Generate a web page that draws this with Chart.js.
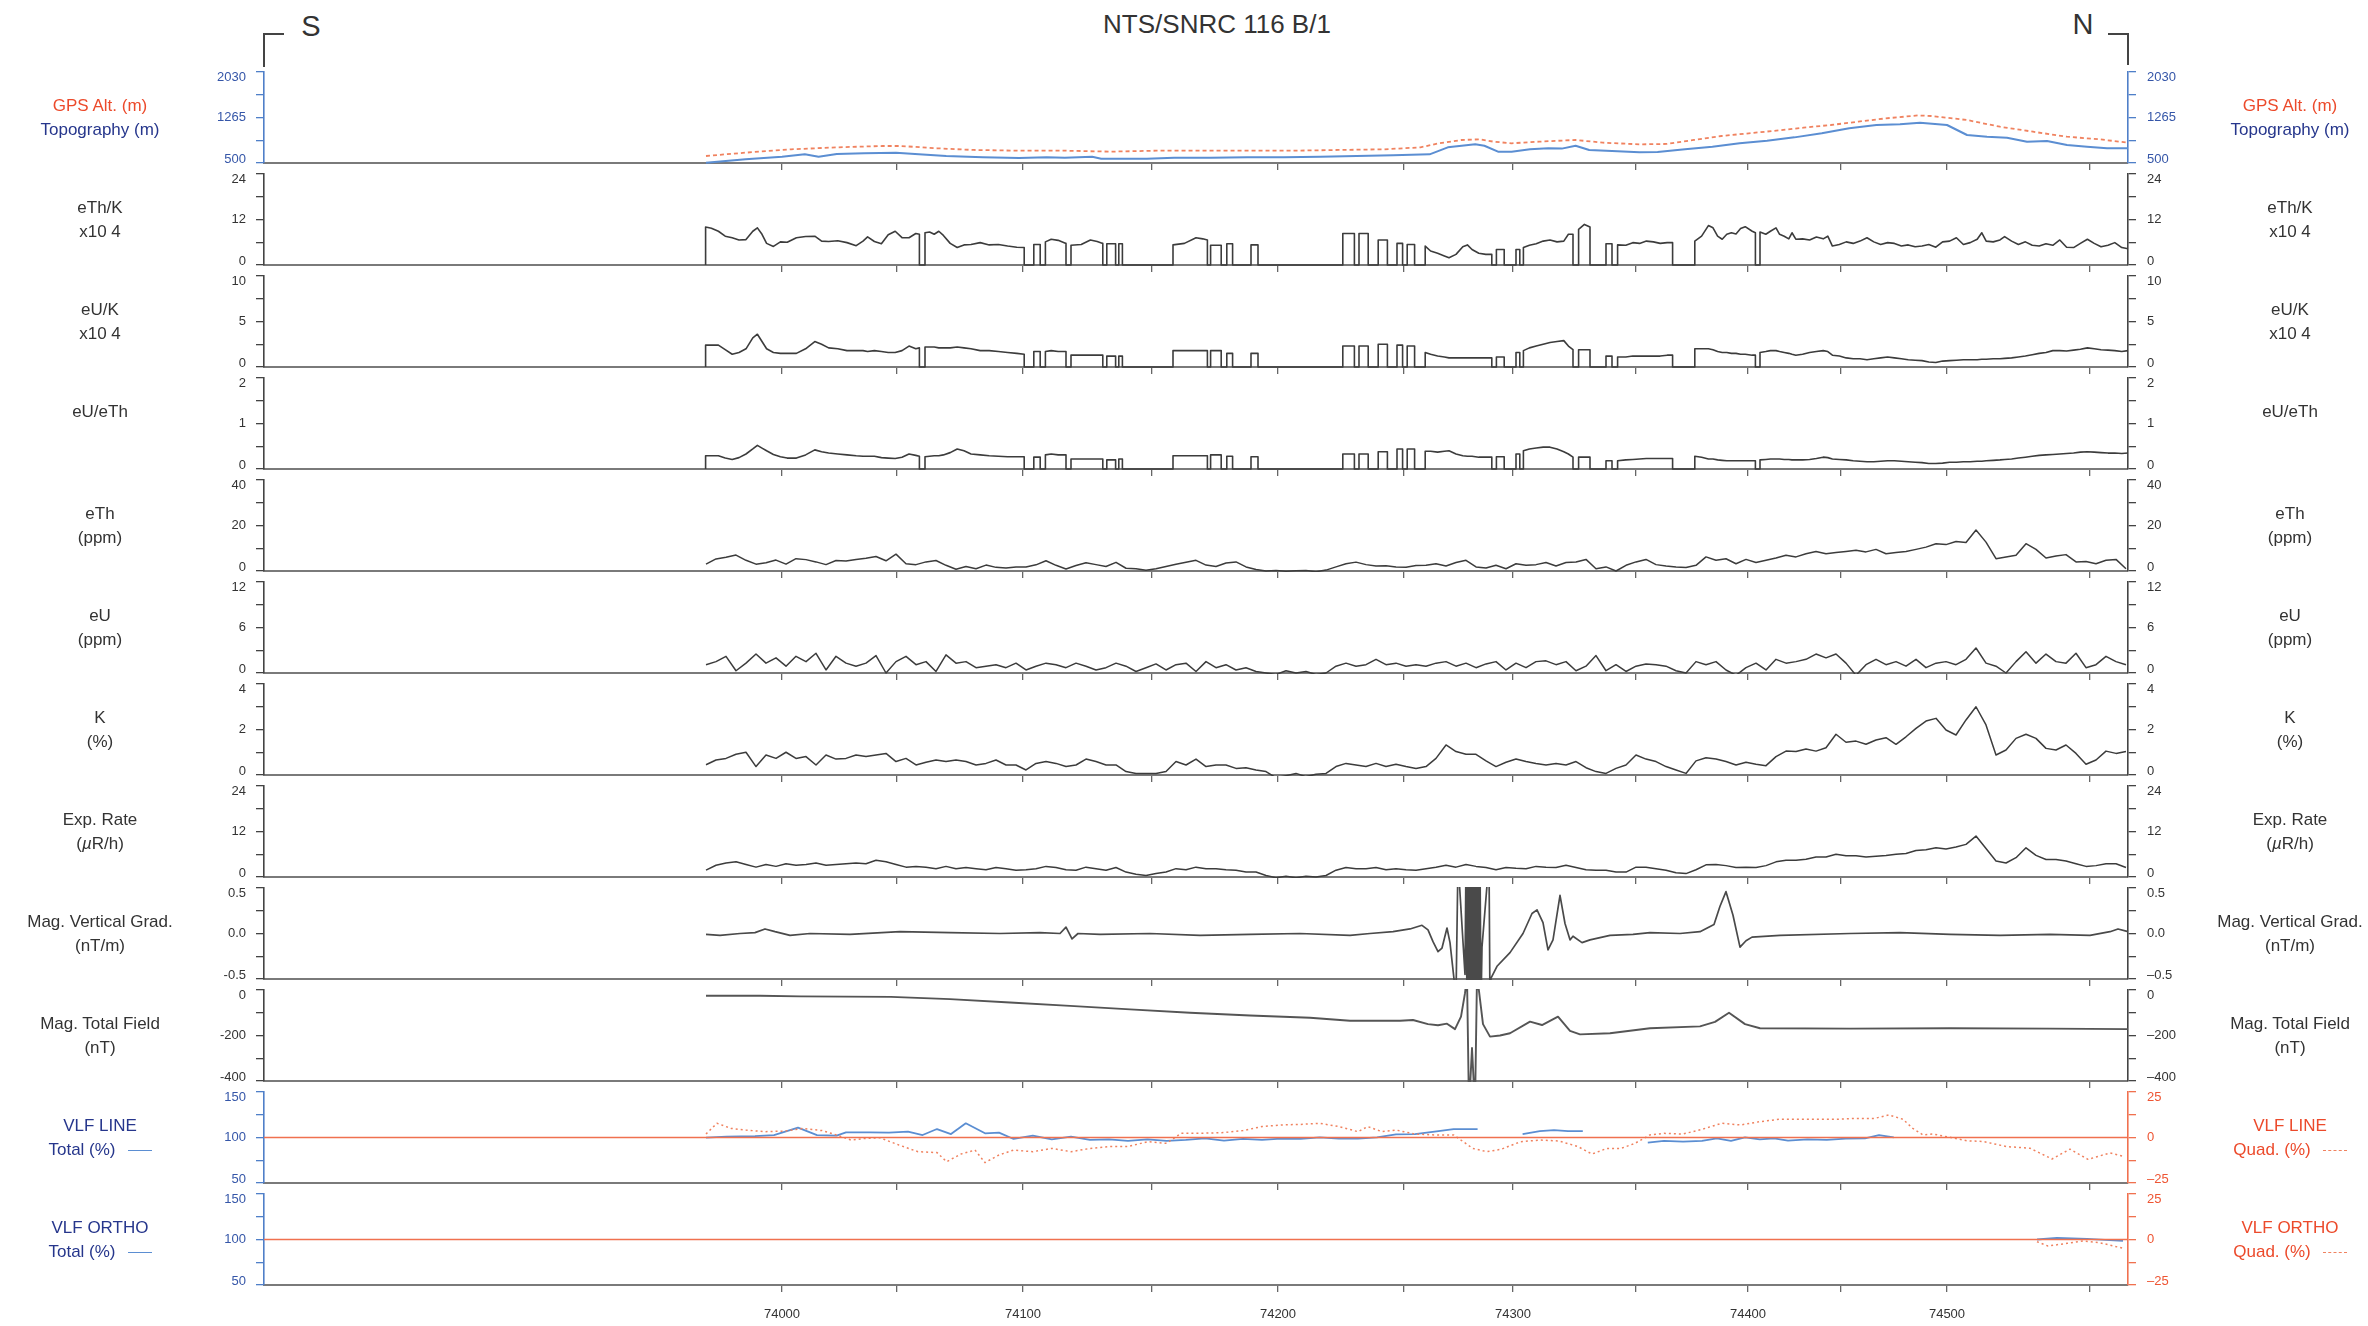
<!DOCTYPE html>
<html><head><meta charset="utf-8">
<script src="https://cdn.jsdelivr.net/npm/chart.js@4.4.1/dist/chart.umd.min.js"></script>
<style>
html,body{margin:0;padding:0;background:#fff;}
body{width:2368px;height:1326px;position:relative;overflow:hidden;font-family:"Liberation Sans",Arial,Helvetica,sans-serif;color:#333;}
.pn{position:absolute;left:0;width:2368px;}
.pn canvas{display:block;}
.lab{position:absolute;width:200px;text-align:center;font-size:17px;line-height:24px;color:#333;white-space:nowrap;}
.txt{position:absolute;white-space:nowrap;}
.br{position:absolute;border-color:#444;border-style:solid;border-width:0;}
</style></head><body>
<div class="txt" style="left:917px;width:600px;top:8px;text-align:center;font-size:26px;line-height:32px;">NTS/SNRC 116 B/1</div>
<div class="txt" style="left:291px;width:40px;top:8px;text-align:center;font-size:29px;line-height:36px;">S</div>
<div class="txt" style="left:2063px;width:40px;top:6px;text-align:center;font-size:29px;line-height:36px;">N</div>
<div class="br" style="left:263px;top:33px;width:19px;height:32px;border-top-width:2px;border-left-width:2px;"></div>
<div class="br" style="left:2108px;top:33px;width:19px;height:30px;border-top-width:2px;border-right-width:2px;"></div>
<script>
// ---------- x axis (distance along line, m) and fiducial ticks ----------
const X_MIN = 0, X_MAX = 9320;
const fidLabels = [74000,74050,74100,74150,74200,74250,74300,74350,74400,74450,74500,74550];
const fidDist   = [2590,3165,3795,4440,5070,5700,6245,6860,7420,7885,8415,9130];

// ---------- GPS altitude / topography (m) ----------
const topoDist = [2210,2408,2590,2704,2773,2864,3001,3160,3274,3411,3594,3776,3913,4004,4141,4186,4414,4551,4734,4916,5098,5281,5463,5646,5828,5919,5988,6056,6102,6170,6238,6330,6421,6489,6558,6626,6740,6877,6968,7105,7242,7378,7515,7652,7789,7926,8062,8180,8280,8415,8515,8615,8715,8815,8915,9015,9115,9215,9320];
const topoAlt  = [505,562,606,646,606,651,662,674,646,618,595,584,595,590,606,573,573,590,590,595,595,606,618,629,646,763,791,814,790,691,691,730,747,742,791,719,702,679,684,730,775,831,875,931,999,1083,1139,1150,1177,1139,971,942,926,858,870,803,774,747,747];
const gpsDist  = [2210,2408,2636,2864,3092,3183,3366,3548,3776,4004,4232,4460,4688,4916,5144,5372,5600,5782,5874,5988,6079,6147,6238,6375,6558,6694,6877,7014,7150,7287,7424,7561,7698,7834,7971,8108,8270,8336,8515,8680,8845,9015,9180,9320];
const gpsAlt   = [618,674,730,763,786,786,747,719,707,707,691,707,707,707,707,719,730,763,831,887,898,859,831,859,887,842,814,820,887,954,999,1044,1094,1139,1195,1250,1300,1290,1223,1110,1026,942,898,841];

// ---------- ratio panels: segments (distance) and values ----------
const ratioSegDist = [
 [2208,2237,2272,2306,2341,2375,2410,2444,2467,2490,2513,2547,2582,2616,2662,2708,2754,2788,2823,2869,2915,2961,2995,3018,3052,3087,3121,3156,3190,3225,3259,3277],
 [3305,3328,3351,3374,3397,3431,3466,3500,3535,3581,3626,3672,3718,3764,3801],
 [3849,3881],[3907,3936,3971,4010],[4035,4086,4132,4166,4194],[4214,4258],[4274,4292],
 [4545,4602,4660,4694,4717],[4733,4786],[4814,4843],[4935,4970],
 [5394,5452],[5475,5521],[5571,5617],[5665,5693],[5716,5753],
 [5806,5833,5868,5902,5925,5960,5994,6017,6040,6074,6109,6139],
 [6162,6201],[6260,6279],
 [6297,6327,6361,6396,6430,6465,6499,6522,6545],
 [6573,6602,6630],[6710,6740],
 [6768,6809,6844,6878,6912,6947,6981,7016,7043],
 [7154,7188,7222,7245,7268,7291,7314,7337,7360,7383,7406,7441,7457],
 [7480,7509,7532,7560,7578,7601,7624,7640,7659,7693,7728,7762,7796,7819,7842,7877,7911,7946,7980,8015,8049,8083,8118,8152,8187,8221,8256,8290,8324,8359,8393,8428,8462,8497,8531,8566,8589,8611,8646,8680,8703,8738,8772,8807,8841,8876,8910,8944,8979,9013,9048,9082,9117,9151,9185,9220,9254,9289,9320]
];
const eThK = [
 [10.0,9.7,8.9,7.6,7.2,6.6,6.7,8.9,9.8,8.1,5.7,4.9,6.1,6.0,7.2,7.5,7.6,6.3,6.2,6.4,5.9,5.1,6.3,7.4,6.2,5.6,8.0,8.9,7.2,7.2,8.3,8.1],
 [8.5,8.7,8.1,8.9,7.8,5.7,4.6,5.3,5.4,5.9,5.3,5.4,5.0,4.7,4.6],
 [5.4,5.4],[6.1,6.8,6.5,5.7],[5.2,5.4,6.6,6.2,5.7],[5.6,5.6],[5.6,5.6],
 [5.3,5.7,7.2,6.9,6.6],[5.2,5.2],[5.6,5.6],[5.3,5.3],
 [8.3,8.3],[8.3,8.3],[6.6,6.6],[5.7,5.7],[5.4,5.4],
 [5.0,3.7,3.1,2.4,1.9,2.8,4.8,5.3,4.1,3.1,2.8,2.8],
 [4.1,4.1],[4.1,4.1],
 [4.6,5.2,5.6,6.3,6.6,6.1,6.3,8.1,8.1],
 [9.4,10.7,10.0],[5.6,5.6],
 [5.3,5.2,5.9,5.7,6.3,6.1,5.7,5.9,5.9],
 [6.3,7.6,10.4,9.8,7.6,6.8,8.1,8.5,8.2,9.6,10.1,8.9,8.5],
 [8.7,8.1,8.9,9.8,8.1,7.6,6.9,8.5,6.8,6.9,6.6,7.4,6.9,7.6,5.0,5.4,6.1,5.7,6.3,7.2,6.1,5.4,5.9,5.7,5.0,5.3,4.8,5.0,5.4,4.7,6.1,6.3,7.2,5.4,5.9,6.8,8.5,6.3,6.1,6.6,7.5,6.3,5.4,6.1,5.2,5.0,5.6,5.2,6.6,4.7,4.6,5.7,6.8,5.7,4.8,5.2,5.9,4.6,4.3]
];
const eUK = [
 [2.4,2.4,2.4,1.9,1.4,1.6,2.0,3.2,3.6,2.8,2.0,1.6,1.5,1.5,1.5,2.0,2.8,2.5,2.1,2.0,1.8,1.8,1.8,1.7,1.8,1.7,1.6,1.6,1.8,2.3,2.0,2.1],
 [2.2,2.2,2.2,2.1,2.1,2.1,2.2,2.1,2.0,1.8,1.8,1.7,1.6,1.5,1.4],
 [1.7,1.7],[1.7,1.8,1.7,1.7],[1.3,1.3,1.3,1.3,1.3],[1.2,1.2],[1.2,1.2],
 [1.8,1.8,1.8,1.8,1.8],[1.8,1.8],[1.5,1.5],[1.5,1.5],
 [2.3,2.3],[2.3,2.3],[2.5,2.5],[2.4,2.4],[2.3,2.3],
 [1.6,1.4,1.2,1.1,1.0,1.0,1.0,1.0,1.0,1.0,1.0,1.0],
 [1.1,1.1],[1.6,1.6],
 [1.8,2.1,2.3,2.5,2.7,2.8,2.9,2.3,1.9],
 [1.9,1.9,1.9],[1.2,1.2],
 [1.1,1.1,1.2,1.2,1.2,1.2,1.2,1.3,1.3],
 [2.0,2.0,2.0,1.9,1.7,1.6,1.6,1.5,1.5,1.4,1.4,1.3,1.3],
 [1.6,1.7,1.8,1.8,1.7,1.6,1.5,1.4,1.3,1.4,1.6,1.7,1.8,1.7,1.3,1.2,1.0,0.9,0.9,0.8,0.9,1.0,1.1,1.0,0.9,0.8,0.75,0.7,0.55,0.5,0.65,0.7,0.75,0.8,0.8,0.8,0.85,0.85,0.9,0.9,0.95,1.0,1.1,1.2,1.35,1.5,1.6,1.8,1.8,1.75,1.85,1.95,2.1,2.0,1.9,1.85,1.8,1.7,1.8]
];
const eUeTh = [
 [0.29,0.29,0.29,0.24,0.21,0.25,0.33,0.44,0.52,0.46,0.40,0.32,0.27,0.24,0.24,0.31,0.42,0.38,0.35,0.33,0.31,0.29,0.28,0.28,0.28,0.25,0.24,0.23,0.26,0.33,0.30,0.28],
 [0.27,0.28,0.29,0.29,0.31,0.36,0.44,0.40,0.33,0.31,0.29,0.28,0.27,0.27,0.27],
 [0.26,0.26],[0.31,0.33,0.31,0.31],[0.22,0.22,0.22,0.22,0.22],[0.20,0.20],[0.22,0.22],
 [0.29,0.29,0.29,0.29,0.29],[0.31,0.31],[0.28,0.28],[0.27,0.27],
 [0.33,0.33],[0.33,0.33],[0.38,0.38],[0.44,0.44],[0.44,0.44],
 [0.39,0.39,0.37,0.39,0.40,0.33,0.29,0.28,0.28,0.26,0.26,0.26],
 [0.27,0.27],[0.33,0.33],
 [0.40,0.44,0.46,0.48,0.48,0.44,0.38,0.33,0.26],
 [0.26,0.26,0.26],[0.18,0.18],
 [0.18,0.20,0.21,0.22,0.23,0.23,0.23,0.23,0.23],
 [0.28,0.26,0.22,0.22,0.20,0.19,0.18,0.18,0.18,0.18,0.18,0.18,0.18],
 [0.20,0.21,0.22,0.22,0.22,0.21,0.21,0.20,0.20,0.20,0.21,0.23,0.26,0.25,0.22,0.21,0.20,0.18,0.17,0.16,0.16,0.17,0.18,0.18,0.17,0.16,0.15,0.14,0.12,0.12,0.13,0.15,0.15,0.16,0.16,0.17,0.17,0.18,0.19,0.20,0.21,0.22,0.24,0.26,0.28,0.30,0.31,0.32,0.33,0.34,0.35,0.37,0.38,0.37,0.36,0.35,0.35,0.34,0.35]
];

// ---------- radiometric profiles, sampled every 50 m from 2210 m ----------
const radStart = 2210, radStep = 50;
const eTh = [3.0,5.3,6.0,7.0,4.7,3.0,3.6,4.8,3.0,5.4,5.0,4.0,2.8,4.6,4.4,5.1,5.6,6.4,4.5,7.4,3.2,2.8,4.0,4.6,2.5,0.8,2.0,1.0,2.6,1.6,1.3,1.8,1.8,2.7,4.5,2.5,0.9,2.4,3.6,2.8,2.0,3.8,1.2,1.0,0.3,1.0,2.0,3.0,3.8,4.7,2.6,2.0,3.5,4.0,1.8,0.7,0.0,0.2,-0.1,0.1,0.2,-0.3,0.4,1.8,3.2,3.9,2.8,2.2,2.3,1.8,1.6,2.4,
 2.5,3.2,2.2,3.7,4.7,1.8,1.3,2.5,1.0,3.2,2.5,2.8,3.7,2.2,3.7,4.0,5.1,1.0,1.8,0.0,2.5,4.0,5.1,2.8,2.2,1.8,1.5,2.5,6.2,4.7,5.4,3.2,5.1,3.7,4.7,5.7,6.9,6.2,7.6,8.6,7.6,8.1,8.6,9.1,8.4,9.5,7.6,8.1,8.6,9.5,10.5,12.0,11.6,13.0,12.5,18.0,12.7,5.4,6.2,6.9,12.0,9.5,5.7,6.6,7.2,4.0,4.2,3.2,4.7,5.1,1.0];
const eU = [1.1,1.5,2.2,0.3,1.3,2.5,1.3,2.0,0.9,2.2,1.5,2.6,0.4,2.2,1.3,0.9,1.3,2.3,0.0,1.5,2.2,1.1,1.5,0.2,2.4,1.3,1.5,0.7,0.9,1.1,0.7,1.3,0.4,0.9,1.3,1.1,0.7,1.3,0.9,0.4,0.7,1.3,0.9,0.2,0.7,1.2,0.4,1.1,1.3,0.2,1.5,0.7,1.1,0.4,0.7,0.2,0.0,-0.2,0.3,0.0,0.2,-0.2,0.0,0.9,1.3,0.9,1.1,1.8,1.1,1.3,0.9,1.1,
 0.9,1.3,1.5,0.9,1.3,0.7,1.2,1.5,0.4,1.3,0.7,1.5,1.6,1.1,1.5,0.3,0.9,2.3,0.3,1.1,0.2,0.9,1.2,1.1,0.9,0.3,0.0,1.5,1.1,1.5,0.4,-0.3,0.7,1.3,0.4,1.8,1.3,1.5,1.8,2.5,2.0,2.5,1.3,-0.3,1.1,1.8,1.1,1.5,0.9,1.8,0.7,1.3,1.5,1.1,1.8,3.3,1.3,0.9,0.0,1.5,2.8,1.3,2.5,1.5,1.3,2.6,0.7,1.1,2.2,1.5,1.1];
const K = [0.45,0.66,0.73,0.91,1.0,0.37,0.88,0.73,1.0,0.73,0.81,0.44,0.88,0.70,0.73,0.88,0.81,0.88,0.95,0.59,0.73,0.44,0.56,0.66,0.59,0.66,0.59,0.44,0.51,0.66,0.44,0.44,0.22,0.51,0.59,0.51,0.37,0.44,0.70,0.59,0.44,0.44,0.15,0.07,0.07,0.07,0.15,0.59,0.44,0.70,0.37,0.44,0.44,0.29,0.32,0.22,0.15,-0.12,-0.03,0.07,-0.07,0.03,0.07,0.37,0.51,0.44,0.37,0.51,0.37,0.47,0.37,0.29,
 0.37,0.73,1.32,1.03,0.91,0.91,0.62,0.37,0.56,0.70,0.59,0.51,0.44,0.51,0.44,0.59,0.32,0.15,0.07,0.29,0.44,0.88,0.70,0.59,0.37,0.22,0.07,0.62,0.76,0.70,0.59,0.44,0.56,0.47,0.41,0.81,1.05,1.03,1.14,1.05,1.20,1.79,1.44,1.49,1.35,1.54,1.64,1.35,1.68,2.05,2.37,2.49,1.98,1.76,2.42,3.00,2.20,0.88,1.10,1.61,1.79,1.61,1.17,1.10,1.32,0.95,0.47,0.66,1.05,0.95,1.03];
const expRate = [1.8,3.1,3.7,4.0,3.3,2.6,3.3,2.8,3.5,3.1,3.3,3.7,3.1,3.3,3.5,3.7,3.5,4.4,4.0,3.3,2.6,2.8,2.6,2.2,2.8,2.2,2.5,2.2,1.9,2.5,2.2,1.8,1.9,2.2,2.8,2.5,1.9,1.8,2.6,2.2,1.8,2.5,1.3,0.7,0.4,0.9,1.3,2.2,1.9,2.6,2.2,2.2,1.9,1.8,1.3,1.3,0.4,-0.2,0.2,-0.2,0.2,0.0,0.4,1.8,2.5,2.2,2.2,2.5,1.9,2.2,1.9,1.8,
 2.2,2.6,3.1,2.6,3.3,2.8,2.5,1.9,2.5,2.3,2.2,2.8,2.6,2.5,3.1,2.5,1.9,1.8,1.8,1.3,1.3,2.6,2.6,2.2,1.8,1.1,0.9,1.9,3.2,3.3,3.0,2.5,2.6,2.5,3.0,4.0,4.4,4.4,4.7,5.3,5.3,6.0,5.6,5.6,5.3,5.5,5.7,6.0,6.2,7.0,7.2,7.7,7.4,7.9,8.6,10.8,7.5,4.2,3.7,5.1,7.7,5.7,4.6,4.6,4.2,3.5,2.8,3.0,3.5,3.5,2.5];

// ---------- magnetics ----------
const vgDist = [2210,2280,2380,2455,2505,2555,2630,2730,2930,3180,3430,3680,3880,3980,4010,4040,4070,4180,4430,4680,4930,5180,5430,5530,5645,5730,5790,5820,5845,5870,5890,5915,5930,5945,5960,5970,6005,
 6010,6015,6020,6025,6030,6035,6040,6045,6050,6055,6060,6065,6070,6075,6080,6085,
 6090,6125,6130,6135,6165,6230,6295,6340,6365,6395,6420,6445,6480,6505,6530,6545,6590,6630,6730,6845,6930,7080,7180,7250,7280,7310,7345,7380,7410,7440,7580,7930,8180,8430,8680,8930,9130,9230,9270,9320];
const vgVal = [-0.01,-0.02,0.0,0.01,0.05,0.02,-0.02,0.0,-0.01,0.02,0.01,0.0,0.01,0.0,0.07,-0.06,0.0,-0.01,0.0,-0.02,-0.01,0.0,-0.02,0.0,0.02,0.05,0.09,0.04,-0.09,-0.2,-0.16,0.06,-0.1,-0.4,-0.7,0.8,-0.45,
 0.8,-0.8,0.8,-0.8,0.8,-0.8,0.8,-0.8,0.8,-0.8,0.8,-0.8,0.8,-0.8,0.8,-0.8,
 -0.15,0.8,-0.8,-0.49,-0.36,-0.21,0.0,0.22,0.26,0.12,-0.18,-0.07,0.42,0.11,-0.07,-0.03,-0.1,-0.07,-0.02,-0.01,0.01,0.0,0.02,0.1,0.3,0.46,0.2,-0.15,-0.08,-0.04,-0.02,0.0,0.01,-0.01,-0.02,-0.01,-0.02,0.02,0.05,0.02];
const tfDist = [2210,2480,2680,3135,3430,3730,4030,4330,4630,4930,5230,5430,5680,5745,5820,5870,5915,5955,5985,6005,6015,6025,6040,6055,6065,6075,6095,6130,6180,6230,6330,6390,6470,6530,6580,6730,6930,7180,7255,7325,7405,7480,7930,8430,8930,9320];
const tfVal  = [-25,-25,-28,-30,-40,-55,-70,-85,-100,-112,-122,-135,-135,-132,-150,-155,-148,-172,-117,-14,60,-520,-255,-520,60,-5,-150,-205,-200,-190,-139,-154,-117,-180,-195,-190,-168,-160,-140,-100,-150,-168,-170,-168,-170,-172];

// ---------- VLF ----------
const vlfLineTotDist = [
 [2210,2313,2455,2550,2670,2765,2863,2910,3030,3125,3220,3293,3365,3435,3509,3605,3675,3748,3844,3939,4035,4130,4225,4320,4418,4513,4609,4705,4800,4895,4990,5085,5183,5279,5374,5470,5565,5660,5755,5853,5948,6068],
 [6293,6379,6450,6520,6594],
 [6919,7000,7095,7190,7264,7335,7405,7479,7550,7620,7718,7814,7909,8005,8075,8149]];
const vlfLineTot = [
 [99.8,100.9,101.6,102.7,110.8,102.7,102.0,105.7,105.7,105.3,106.4,102.7,109.3,103.8,115.6,104.6,105.3,98.4,102.0,98.0,100.9,97.3,98.0,96.2,98.0,96.2,97.3,99.1,96.5,98.4,97.3,98.7,98.4,100.2,98.7,98.7,100.2,103.5,103.8,106.4,109.3,109.3],
 [103.8,107.1,108.2,107.1,107.1],
 [94.3,96.2,95.5,96.2,99.1,96.2,100.2,98.0,99.1,96.5,98.0,97.3,98.7,99.1,102.7,100.2]];
const vlfLineQuadDist = [2210,2265,2335,2409,2504,2600,2695,2790,2863,2935,3005,3078,3174,3270,3365,3413,3485,3555,3605,3675,3748,3844,3939,4035,4130,4225,4320,4418,4513,4585,4680,4800,4895,4990,5085,5183,5279,5374,5470,5518,5590,5660,5755,5853,5948,6044,6115,6185,6283,6379,6474,6570,6640,6714,6785,6855,6929,7000,7095,7190,7288,7383,7479,7575,7670,7765,7860,7957,8053,8125,8195,8244,8295,8345,8415,8515,8595,8715,8830,8940,9030,9120,9230,9295];
const vlfLineQuad = [1.9,7.8,5.0,4.1,3.2,3.5,5.0,3.8,1.4,-1.4,-0.5,-0.1,-4.1,-7.8,-8.3,-13.3,-9.1,-6.9,-13.8,-9.6,-6.9,-7.8,-6.0,-7.8,-6.0,-5.0,-5.0,-2.3,-3.2,2.3,2.3,2.7,3.8,6.0,6.9,7.2,7.8,6.0,3.2,6.0,3.2,4.1,1.9,1.4,1.4,-6.0,-7.8,-6.5,-2.3,-1.4,-1.9,-5.0,-9.1,-6.0,-6.0,-3.2,1.4,2.3,1.9,4.5,7.8,6.9,8.7,10.0,10.0,10.0,10.0,10.5,10.5,12.4,10.0,5.0,1.4,1.9,0.4,-1.8,-2.2,-5.0,-5.9,-11.8,-6.4,-12.0,-8.5,-10.3];
const vlfOrthoTotDist = [8865,8965,9115,9295];
const vlfOrthoTot = [100.0,101.8,100.6,98.6];
const vlfOrthoQuadDist = [8865,8920,9015,9095,9180,9295];
const vlfOrthoQuad = [-1.2,-3.6,-2.1,-0.8,-1.8,-4.8];

// ---------- y-axis labels (min, mid, max) ----------
const yGps = [500,1265,2030], yEThK = [0,12,24], yEUK = [0,5,10], yEUeTh = [0,1,2];
const yETh = [0,20,40], yEU = [0,6,12], yK = [0,2,4], yExp = [0,12,24];
const yVG = [-0.5,0.0,0.5], yTF = [-400,-200,0], yVlfTot = [50,100,150], yVlfQuad = [-25,0,25];

// ---------- drawing ----------
const FONT = '"Liberation Sans", Arial, Helvetica, sans-serif';
Chart.defaults.font.family = FONT;
Chart.defaults.animation = false;

const RED_TXT = '#ec4a2b', NAVY = '#26368c', BLUE_TICK = '#3556a8', BLUE_AX = '#4f7fc8';
const BLUE_LINE = '#5b8ed2', RED_LINE = '#f0825f', RED_AX = '#f0714f', DARK = '#3c3c3c';

const xy = (xs, ys) => xs.map((x, i) => ({x, y: ys[i]}));
const grid = (start, step, ys) => ys.map((y, i) => ({x: start + step * i, y}));
function pulses(segX, segY) {
  const out = [];
  segX.forEach((xs, s) => {
    out.push({x: xs[0], y: 0});
    xs.forEach((x, i) => out.push({x, y: segY[s][i]}));
    if (xs[xs.length - 1] < X_MAX) out.push({x: xs[xs.length - 1], y: 0});
  });
  return out;
}
function gapped(segX, segY) {
  const out = [];
  segX.forEach((xs, s) => {
    if (s > 0) out.push({x: xs[0] - 1, y: null});
    xs.forEach((x, i) => out.push({x, y: segY[s][i]}));
  });
  return out;
}
function line(data, color, width, extra) {
  return Object.assign({data, borderColor: color, borderWidth: width, pointRadius: 0, tension: 0,
    fill: false, clip: 1, spanGaps: false, borderJoinStyle: 'round', yAxisID: 'y'}, extra || {});
}

const panels = [
  {yl: yGps, lc: BLUE_TICK, ac: BLUE_AX, dec: 0,
   ds: [line(xy(gpsDist, gpsAlt), RED_LINE, 1.8, {borderDash: [4, 3]}), line(xy(topoDist, topoAlt), BLUE_LINE, 2)]},
  {yl: yEThK, dec: 0, ds: [line(pulses(ratioSegDist, eThK), DARK, 1.6)]},
  {yl: yEUK, dec: 0, ds: [line(pulses(ratioSegDist, eUK), DARK, 1.6)]},
  {yl: yEUeTh, dec: 0, ds: [line(pulses(ratioSegDist, eUeTh), DARK, 1.6)]},
  {yl: yETh, dec: 0, ds: [line(grid(radStart, radStep, eTh), DARK, 1.5)]},
  {yl: yEU, dec: 0, ds: [line(grid(radStart, radStep, eU), DARK, 1.5)]},
  {yl: yK, dec: 0, ds: [line(grid(radStart, radStep, K), DARK, 1.5)]},
  {yl: yExp, dec: 0, ds: [line(grid(radStart, radStep, expRate), DARK, 1.5)]},
  {yl: yVG, dec: 1, ds: [line(xy(vgDist, vgVal), '#4a4a4a', 1.7)]},
  {yl: yTF, dec: 0, ds: [line(xy(tfDist, tfVal), '#555', 1.9)]},
  {yl: yVlfTot, yr: yVlfQuad, lc: BLUE_TICK, ac: BLUE_AX, rc: '#ee5533', rac: RED_AX, dec: 0,
   ds: [line([{x: X_MIN, y: 0}, {x: X_MAX, y: 0}], RED_AX, 1.4, {yAxisID: 'yR', clip: 2}),
        line(xy(vlfLineQuadDist, vlfLineQuad), RED_LINE, 1.5, {yAxisID: 'yR', borderDash: [2, 3]}),
        line(gapped(vlfLineTotDist, vlfLineTot), BLUE_LINE, 1.8)]},
  {yl: yVlfTot, yr: yVlfQuad, lc: BLUE_TICK, ac: BLUE_AX, rc: '#ee5533', rac: RED_AX, dec: 0,
   ds: [line([{x: X_MIN, y: 0}, {x: X_MAX, y: 0}], RED_AX, 1.4, {yAxisID: 'yR', clip: 2}),
        line(xy(vlfOrthoQuadDist, vlfOrthoQuad), RED_LINE, 1.5, {yAxisID: 'yR', borderDash: [2, 3]}),
        line(xy(vlfOrthoTotDist, vlfOrthoTot), BLUE_LINE, 1.8)]}
];

const panelNames = [
  {l: [['GPS Alt. (m)', 'r'], ['Topography (m)', 'b']]},
  {l: [['eTh/K'], ['x10 4']]},
  {l: [['eU/K'], ['x10 4']]},
  {l: [['eU/eTh'], ['']]},
  {l: [['eTh'], ['(ppm)']]},
  {l: [['eU'], ['(ppm)']]},
  {l: [['K'], ['(%)']]},
  {l: [['Exp. Rate'], ['(<i>µ</i>R/h)']]},
  {l: [['Mag. Vertical Grad.'], ['(nT/m)']]},
  {l: [['Mag. Total Field'], ['(nT)']]},
  {l: [['VLF LINE', 'b'], ['Total (%)', 'b', 'solid']], r: [['VLF LINE', 'r'], ['Quad. (%)', 'r', 'dashed']]},
  {l: [['VLF ORTHO', 'b'], ['Total (%)', 'b', 'solid']], r: [['VLF ORTHO', 'r'], ['Quad. (%)', 'r', 'dashed']]}
];

const P_TOP = 72, P_STEP = 102, P_H = 91, PAD_T = 10, LEFT_W = 264, RIGHT_W = 240;
const TICK_LEN = 8, LABEL_GAP = 10;

function fmt(v, dec, side) {
  const a = Math.abs(v).toFixed(dec);
  if (v < 0) return (side === 'r' ? '\u2013' : '-') + a;
  return a;
}
function yScale(labels, pos, axColor) {
  const [lo, mid, hi] = labels;
  const five = [lo, (lo + mid) / 2, mid, (mid + hi) / 2, hi];
  return {
    type: 'linear', position: pos, min: lo, max: hi,
    afterFit: s => { s.width = pos === 'left' ? LEFT_W : RIGHT_W; },
    afterBuildTicks: s => { s.ticks = five.map(v => ({value: v})); },
    ticks: {display: false},
    grid: {drawOnChartArea: false, drawTicks: true, tickLength: TICK_LEN, color: axColor, lineWidth: 1.3},
    border: {display: true, color: axColor, width: 1.6}
  };
}
// y tick labels drawn like the original: end labels pulled slightly inside the panel
function yLabelPlugin(p) {
  return {
    id: 'yLabels',
    afterDraw(chart) {
      const ctx = chart.ctx, ca = chart.chartArea;
      ctx.save();
      ctx.font = '13px ' + FONT;
      ctx.textBaseline = 'middle';
      [['y', p.yl, p.lc || '#333', 'l'], ['yR', p.yr || p.yl, p.rc || p.lc || '#333', 'r']].forEach(([id, labs, col, side]) => {
        const s = chart.scales[id];
        ctx.fillStyle = col;
        ctx.textAlign = side === 'l' ? 'right' : 'left';
        const x = side === 'l' ? ca.left - TICK_LEN - LABEL_GAP : ca.right + TICK_LEN + LABEL_GAP + 1;
        labs.forEach((v, k) => {
          const inset = k === 0 ? -4 : (k === 2 ? 5 : 0);
          ctx.fillText(fmt(v, p.dec, side), x, s.getPixelForValue(v) + inset);
        });
      });
      ctx.restore();
    }
  };
}

panels.forEach((p, i) => {
  const last = i === panels.length - 1;
  const padB = last ? 45 : 11;
  const h = PAD_T + P_H + padB;
  const div = document.createElement('div');
  div.className = 'pn';
  div.style.top = (P_TOP + P_STEP * i - PAD_T) + 'px';
  div.style.height = h + 'px';
  const cv = document.createElement('canvas');
  cv.width = 2368; cv.height = h;
  cv.style.width = '2368px'; cv.style.height = h + 'px';
  div.appendChild(cv);
  document.body.appendChild(div);
  const ac = p.ac || '#444';
  new Chart(cv, {
    type: 'line',
    data: {datasets: p.ds},
    plugins: [yLabelPlugin(p)],
    options: {
      responsive: false, maintainAspectRatio: false, animation: false, events: [],
      layout: {padding: {top: PAD_T, left: 0, right: 0, bottom: 0}},
      plugins: {legend: {display: false}, tooltip: {enabled: false}},
      scales: {
        x: {type: 'linear', position: 'bottom', min: X_MIN, max: X_MAX,
            afterFit: s => { s.height = padB; },
            afterBuildTicks: s => { s.ticks = fidDist.map(v => ({value: v})); },
            ticks: {display: last, autoSkip: false, maxRotation: 0, minRotation: 0, padding: 15,
                    color: '#333', font: {size: 13},
                    callback: (v, k) => (fidLabels[k] % 100 === 0 ? String(fidLabels[k]) : '')},
            grid: {drawOnChartArea: false, drawTicks: true, tickLength: 7, color: '#666', lineWidth: 1.3},
            border: {display: true, color: '#7a7a7a', width: 2}},
        y: yScale(p.yl, 'left', ac),
        yR: yScale(p.yr || p.yl, 'right', p.rac || ac)
      }
    }
  });

  // side labels (HTML text)
  const names = panelNames[i];
  const top = P_TOP + P_STEP * i + P_H / 2 - 24;
  [['l', 0], ['r', 2190]].forEach(([side, left]) => {
    const lines = names[side] || names.l;
    const d = document.createElement('div');
    d.className = 'lab';
    d.style.left = left + 'px';
    d.style.top = top + 'px';
    d.innerHTML = lines.map(([t, c, sample]) => {
      const col = c === 'r' ? RED_TXT : c === 'b' ? NAVY : '#333';
      let s = '<div style="color:' + col + ';height:24px">' + t;
      if (sample) s += '<span style="display:inline-block;width:24px;height:0;border-top:1.5px ' + sample + ' ' +
        (c === 'r' ? RED_LINE : BLUE_LINE) + ';vertical-align:middle;margin-left:12px"></span>';
      return s + '</div>';
    }).join('');
    document.body.appendChild(d);
  });
});
</script>
</body></html>
